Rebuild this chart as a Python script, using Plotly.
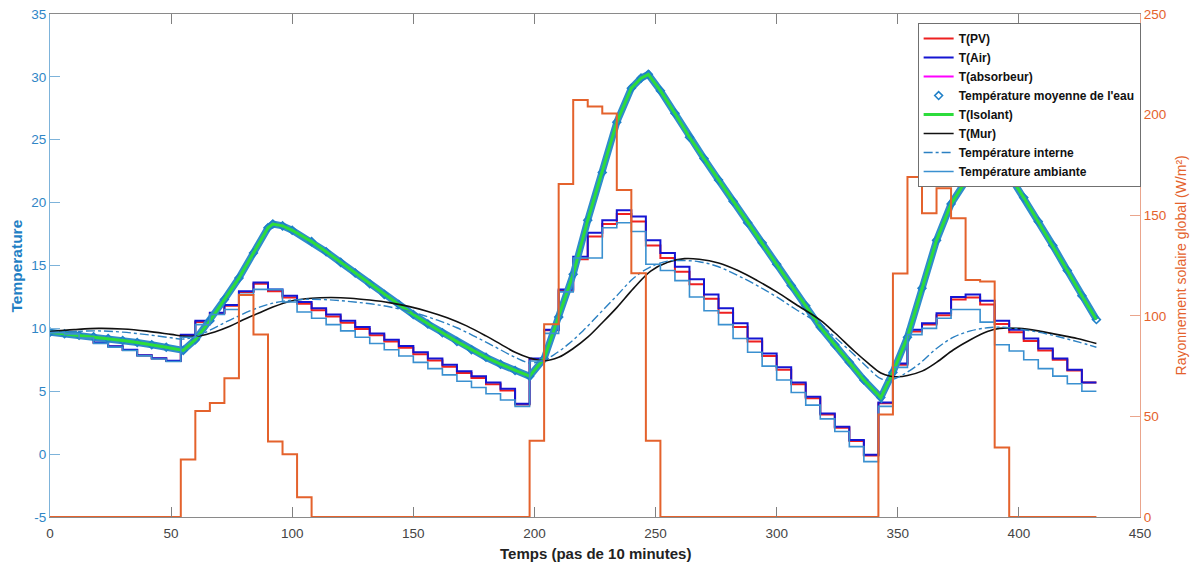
import plotly.graph_objects as go

# ---------------- data (x in steps of 10 minutes) ----------------
# hourly step series: value holds from HOUR_X[i] to HOUR_X[i+1]
HOUR_X = list(range(0, 433, 6))

T_PV = [9.70, 9.60, 9.28, 8.85, 8.55, 8.28, 7.85, 7.61, 7.41,
        9.45, 10.50, 11.20, 11.80, 12.90, 13.55,
        12.95, 12.45, 11.95, 11.45, 10.95, 10.45, 9.95, 9.45, 8.95, 8.45, 7.95, 7.45, 6.95, 6.45, 6.05, 5.55, 5.05, 3.95,
        7.55, 9.85, 13.00, 15.50, 17.30, 18.30, 19.10, 18.50, 16.60, 15.60, 14.50, 13.50, 12.35, 11.25, 10.10, 8.95, 7.80, 6.70, 5.55, 4.45, 3.15, 2.10, 1.05, -0.10,
        4.05, 7.10, 9.75, 10.30, 11.05, 12.30, 12.45, 11.90, 10.35, 9.70, 9.00, 8.25, 7.50, 6.65, 5.70]

T_AIR = [9.72, 9.62, 9.30, 8.87, 8.57, 8.30, 7.87, 7.63, 7.43,
         9.50, 10.60, 11.25, 11.85, 12.95, 13.65,
         13.10, 12.60, 12.10, 11.60, 11.10, 10.60, 10.10, 9.60, 9.10, 8.60, 8.10, 7.60, 7.10, 6.60, 6.20, 5.70, 5.20, 4.00,
         7.60, 9.90, 13.10, 15.70, 17.60, 18.60, 19.40, 18.90, 17.00, 16.00, 14.90, 13.90, 12.70, 11.60, 10.40, 9.20, 8.00, 6.90, 5.70, 4.57, 3.24, 2.18, 1.12, -0.05,
         4.10, 7.20, 9.90, 10.40, 11.20, 12.50, 12.70, 12.20, 10.60, 9.90, 9.20, 8.40, 7.60, 6.70, 5.70]

T_AMB = [9.66, 9.56, 9.24, 8.81, 8.51, 8.24, 7.81, 7.57, 7.37,
         9.30, 10.30, 11.10, 11.50, 12.70, 13.10,
         13.10, 12.10, 11.30, 10.80, 10.30, 9.80, 9.30, 8.80, 8.30, 7.80, 7.30, 6.80, 6.30, 5.80, 5.30, 4.80, 4.30, 3.80,
         7.40, 9.60, 12.90, 15.60, 15.60, 18.00, 18.40, 17.70, 15.10, 14.60, 13.80, 12.50, 11.40, 10.30, 9.20, 8.10, 7.00, 5.90, 4.90, 3.90, 2.80, 1.80, 0.60, -0.60,
         3.80, 6.90, 9.50, 10.00, 10.80, 11.50, 11.50, 10.50, 8.70, 8.20, 7.50, 6.80, 6.20, 5.60, 5.00]

SOLAR = [0, 0, 0, 0, 0, 0, 0, 0, 0,
         28.6, 52.7, 56.6, 69.0, 110.4, 90.7, 37.5, 31.25, 9.8,
         0, 0, 0, 0, 0, 0, 0, 0, 0, 0, 0, 0, 0, 0, 0,
         37.9, 95.8, 165.5, 207.3, 204.0, 200.6, 162.5, 121.1, 37.9,
         0, 0, 0, 0, 0, 0, 0, 0, 0, 0, 0, 0, 0, 0, 0,
         51.0, 121.0, 169.0, 151.0, 163.4, 148.5, 117.8, 117.0, 34.6,
         0, 0, 0, 0, 0, 0]

# smooth curves
ISO_X = [0, 6, 12, 18, 24, 30, 36, 42, 48, 55, 60, 66, 72, 78, 84, 90, 92, 96, 100,
         108, 114, 120, 126, 132, 138, 144, 150, 156, 162, 168, 174, 180, 186, 192, 198,
         204, 210, 216, 222, 228, 234, 240, 244, 247,
         252, 258, 264, 270, 276, 282, 288, 294, 300, 306, 312, 318, 324, 330, 336, 343,
         348, 354, 360, 366, 372, 378, 384, 390, 392,
         396, 402, 408, 414, 420, 426, 432]
T_ISOLANT = [9.70, 9.58, 9.46, 9.33, 9.19, 9.04, 8.88, 8.70, 8.50, 8.25, 9.10, 10.60, 12.30, 14.00, 16.00, 18.00, 18.30, 18.15, 17.80,
             16.90, 16.10, 15.25, 14.40, 13.55, 12.70, 11.90, 11.10, 10.35, 9.65, 8.95, 8.30, 7.70, 7.15, 6.65, 6.20,
             7.60, 10.90, 14.30, 18.60, 22.40, 26.40, 29.10, 29.90, 30.20,
             28.90, 27.10, 25.20, 23.50, 21.80, 20.10, 18.40, 16.80, 15.10, 13.40, 11.80, 10.10, 8.70, 7.30, 5.90, 4.50,
             6.50, 9.30, 13.20, 17.00, 19.90, 21.70, 22.60, 23.00, 23.05,
             22.20, 20.40, 18.50, 16.60, 14.60, 12.60, 10.70]
T_EAU = T_ISOLANT
T_ABS = T_ISOLANT

MUR_X = [0, 10, 20, 30, 40, 50, 56, 62, 68, 74, 80, 86, 92, 100, 108, 116, 124, 132, 140, 148,
         156, 164, 172, 180, 186, 192, 198, 204, 210, 216, 222, 228, 234, 241, 248, 255, 262, 268, 276, 284,
         292, 300, 308, 318, 324, 332, 338, 343, 347, 350, 354, 360, 366, 373, 380, 387, 392, 400, 408, 416,
         424, 432]
T_MUR = [9.75, 9.90, 10.00, 9.95, 9.78, 9.52, 9.36, 9.42, 9.72, 10.15, 10.70, 11.20, 11.70, 12.20, 12.40, 12.45, 12.40, 12.25, 12.05, 11.75,
         11.35, 10.85, 10.20, 9.40, 8.75, 8.10, 7.65, 7.42, 7.70, 8.40, 9.30, 10.45, 11.65, 13.20, 14.55, 15.25, 15.55, 15.50, 15.20, 14.60,
         13.80, 12.90, 11.90, 10.65, 9.65, 8.20, 7.20, 6.45, 6.20, 6.15, 6.25, 6.60, 7.30, 8.30, 9.10, 9.75, 10.00, 10.00, 9.80, 9.50,
         9.20, 8.80]

INT_X = [0, 10, 20, 30, 40, 50, 55, 60, 66, 72, 78, 84, 90, 96, 104, 112, 120, 128, 136, 144,
         152, 160, 168, 176, 184, 192, 198, 202, 208, 214, 220, 227, 234, 241, 248, 255, 260, 268, 276, 284,
         292, 300, 308, 318, 324, 332, 338, 343, 347, 352, 359, 366, 373, 380, 387, 392, 400, 408, 416, 424, 432]
T_INT = [9.65, 9.75, 9.80, 9.70, 9.50, 9.25, 9.15, 9.35, 9.85, 10.45, 11.00, 11.50, 11.90, 12.15, 12.30, 12.30, 12.20, 12.05, 11.85, 11.55,
         11.15, 10.65, 10.05, 9.30, 8.50, 7.70, 7.25, 7.35, 7.90, 8.75, 9.80, 11.20, 12.60, 14.00, 14.90, 15.35, 15.40, 15.30, 14.90, 14.20,
         13.40, 12.50, 11.50, 10.30, 9.30, 7.90, 6.80, 6.00, 5.90, 6.30, 7.20, 8.40, 9.30, 9.80, 10.05, 10.10, 9.95, 9.70, 9.35, 8.95, 8.50]

X_TICKS = [0, 50, 100, 150, 200, 250, 300, 350, 400, 450]
Y_TICKS = [-5, 0, 5, 10, 15, 20, 25, 30, 35]
Y_TICK_LABELS = ["-5", "0", "5", "10", "15", "20", "25", "30", "35"]
Y2_TICKS = [0, 50, 100, 150, 200, 250]

FONT = "Liberation Sans, Arial, Helvetica, sans-serif"
BLUE_AX = "#2f86c6"
ORANGE = "#e4622c"


def steps(vals):
    return vals + [vals[-1]]


fig = go.Figure()

fig.add_trace(go.Scatter(x=HOUR_X, y=steps(T_PV), mode="lines", line_shape="hv",
                         line=dict(color="#ee2020", width=2), name="T(PV)"))
fig.add_trace(go.Scatter(x=HOUR_X, y=steps(T_AIR), mode="lines", line_shape="hv",
                         line=dict(color="#1515d2", width=2), name="T(Air)"))
fig.add_trace(go.Scatter(x=ISO_X, y=T_ABS, mode="lines",
                         line=dict(color="#ff00ff", width=2), name="T(absorbeur)"))
fig.add_trace(go.Scatter(x=ISO_X, y=T_EAU, mode="lines", showlegend=False, hoverinfo="skip",
                         line=dict(color="#2f8ccc", width=7)))
fig.add_trace(go.Scatter(x=ISO_X, y=T_EAU, mode="markers",
                         marker=dict(symbol="diamond-open", size=6, color="#1f80c8", line=dict(width=1.6)),
                         name="Température moyenne de l'eau"))
fig.add_trace(go.Scatter(x=ISO_X, y=T_ISOLANT, mode="lines",
                         line=dict(color="#2ddc3c", width=3), name="T(Isolant)"))
fig.add_trace(go.Scatter(x=MUR_X, y=T_MUR, mode="lines", line_shape="spline",
                         line=dict(color="#111111", width=1.6), name="T(Mur)"))
fig.add_trace(go.Scatter(x=INT_X, y=T_INT, mode="lines", line_shape="spline",
                         line=dict(color="#2b80c2", width=1.4, dash="dashdot"), name="Température interne"))
fig.add_trace(go.Scatter(x=HOUR_X, y=steps(T_AMB), mode="lines", line_shape="hv",
                         line=dict(color="#3a90d0", width=1.6), name="Température ambiante"))
fig.add_trace(go.Scatter(x=HOUR_X, y=steps(SOLAR), mode="lines", line_shape="hv", yaxis="y2",
                         line=dict(color=ORANGE, width=2), showlegend=False, name="Rayonnement"))

fig.update_layout(
    width=1193, height=564,
    margin=dict(l=50, r=53, t=14, b=47, autoexpand=False),
    paper_bgcolor="white", plot_bgcolor="white",
    font=dict(family=FONT, size=13.5, color="#404040"),
    xaxis=dict(range=[0, 450], tickvals=X_TICKS, ticks="inside", ticklen=10, tickcolor="#808080",
               showline=True, linecolor="#8a8a8a", linewidth=1, mirror="ticks",
               showgrid=False, zeroline=False, tickfont=dict(color="#444444", size=13.5),
               ticklabelstandoff=4),
    yaxis=dict(range=[-5, 35], tickvals=Y_TICKS, ticktext=Y_TICK_LABELS, ticks="inside", ticklen=10,
               tickcolor="#7db3da", showline=True, linecolor="#7db3da", linewidth=1, showgrid=False,
               zeroline=False, tickfont=dict(color=BLUE_AX, size=13.5)),
    yaxis2=dict(range=[0, 250], tickvals=Y2_TICKS, overlaying="y", side="right", ticks="inside",
                ticklen=10, tickcolor="#eaa58c", showline=True, linecolor="#eaa58c", linewidth=1,
                showgrid=False, zeroline=False, tickfont=dict(color=ORANGE, size=13.5)),
    legend=dict(x=0.796, y=0.982, xanchor="left", yanchor="top", bgcolor="white",
                bordercolor="#707070", borderwidth=1, tracegroupgap=0, itemwidth=30,
                font=dict(family=FONT, size=12, color="#111111", weight="bold")),
    annotations=[
        dict(text="Temps (pas de 10 minutes)", xref="paper", yref="paper", x=0.5, y=-0.0716,
             xanchor="center", yanchor="middle", showarrow=False,
             font=dict(family=FONT, size=15, color="#222222", weight="bold")),
        dict(text="Temperature", xref="paper", yref="paper", x=-0.0303, y=0.5, textangle=-90,
             xanchor="center", yanchor="middle", showarrow=False,
             font=dict(family=FONT, size=15.5, color="#1f7fc4", weight="bold")),
        dict(text="Rayonnement solaire global (W/m²)", xref="paper", yref="paper", x=1.0376, y=0.5,
             textangle=-90, xanchor="center", yanchor="middle", showarrow=False,
             font=dict(family=FONT, size=14, color=ORANGE)),
    ],
)

fig.write_html("out.html", config={"displayModeBar": False},
               post_script="document.body.style.margin='0';")
